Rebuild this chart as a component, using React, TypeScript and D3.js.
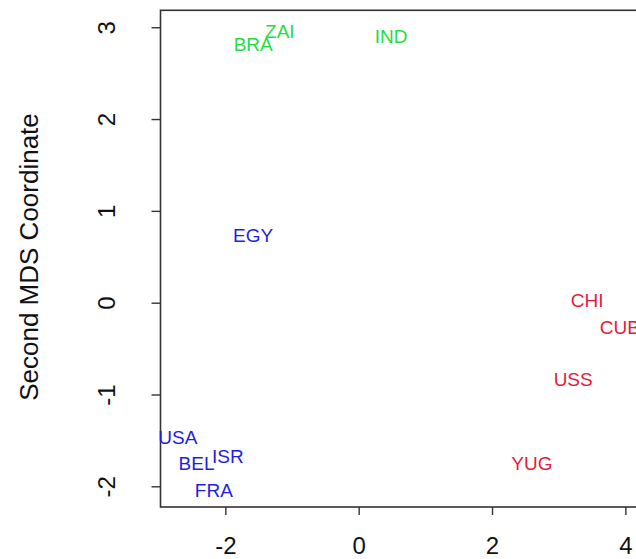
import React from "react";
import * as d3 from "d3";

const countries = ["BRA", "ZAI", "IND", "EGY", "USA", "BEL", "ISR", "FRA", "CHI", "CUB", "USS", "YUG"];
const xValues = [-1.59, -1.19, 0.48, -1.59, -2.72, -2.44, -1.97, -2.18, 3.42, 3.91, 3.21, 2.59];
const yValues = [2.82, 2.96, 2.91, 0.74, -1.46, -1.74, -1.67, -2.04, 0.03, -0.26, -0.83, -1.74];
const groups = ["neutral", "neutral", "neutral", "west", "west", "west", "west", "west", "east", "east", "east", "east"];
const groupNames = ["neutral", "west", "east"];
const groupColors = ["#22dd44", "#1e1ee0", "#e6193c"];
const xTicks = [-2, 0, 2, 4];
const yTicks = [-2, -1, 0, 1, 2, 3];
const yTitle = "Second MDS Coordinate";

const W = 636;
const H = 559;

export default function App() {
  const x = d3.scaleLinear().domain([-2.98, 4.2]).range([160.5, 160.5 + 7.18 * 66.67]);
  const y = d3.scaleLinear().domain([-2.22, 3.19]).range([507, 10.3]);
  const color = d3.scaleOrdinal<string, string>().domain(groupNames).range(groupColors);
  const font = "'Liberation Sans', Arial, Helvetica, sans-serif";
  const [x0, x1] = x.range();
  const [yb, yt] = y.range();
  const labelSize = 19;

  return (
    <svg
      width={W}
      height={H}
      style={{ position: "absolute", left: 0, top: 0, background: "#fff" }}
      fontFamily={font}
    >
      <rect x={0} y={0} width={W} height={H} fill="#fff" />
      {/* plot box */}
      <rect x={x0} y={yt} width={x1 - x0} height={yb - yt} fill="none" stroke="#333" strokeWidth={1.6} />
      {/* y axis */}
      {yTicks.map((t) => (
        <g key={"y" + t}>
          <line x1={x0 - 9} x2={x0} y1={y(t)} y2={y(t)} stroke="#333" strokeWidth={1.4} />
          <text
            x={115}
            y={y(t)}
            transform={`rotate(-90, 115, ${y(t)})`}
            textAnchor="middle"
            fontSize={24}
            fill="#111"
          >
            {String(t)}
          </text>
        </g>
      ))}
      {/* x axis */}
      {xTicks.map((t) => (
        <g key={"x" + t}>
          <line x1={x(t)} x2={x(t)} y1={yb} y2={yb + 8} stroke="#333" strokeWidth={1.4} />
          <text x={x(t)} y={554} textAnchor="middle" fontSize={24} fill="#111">
            {String(t)}
          </text>
        </g>
      ))}
      {/* y title */}
      <text
        x={38}
        y={257}
        transform={`rotate(-90, 38, 257)`}
        textAnchor="middle"
        fontSize={26}
        fill="#111"
      >
        {yTitle}
      </text>
      {/* labels */}
      {countries.map((c, i) => (
        <text
          key={c}
          x={x(xValues[i])}
          y={y(yValues[i]) + labelSize * 0.36}
          textAnchor="middle"
          fontSize={labelSize}
          fill={color(groups[i])}
        >
          {c}
        </text>
      ))}
    </svg>
  );
}
